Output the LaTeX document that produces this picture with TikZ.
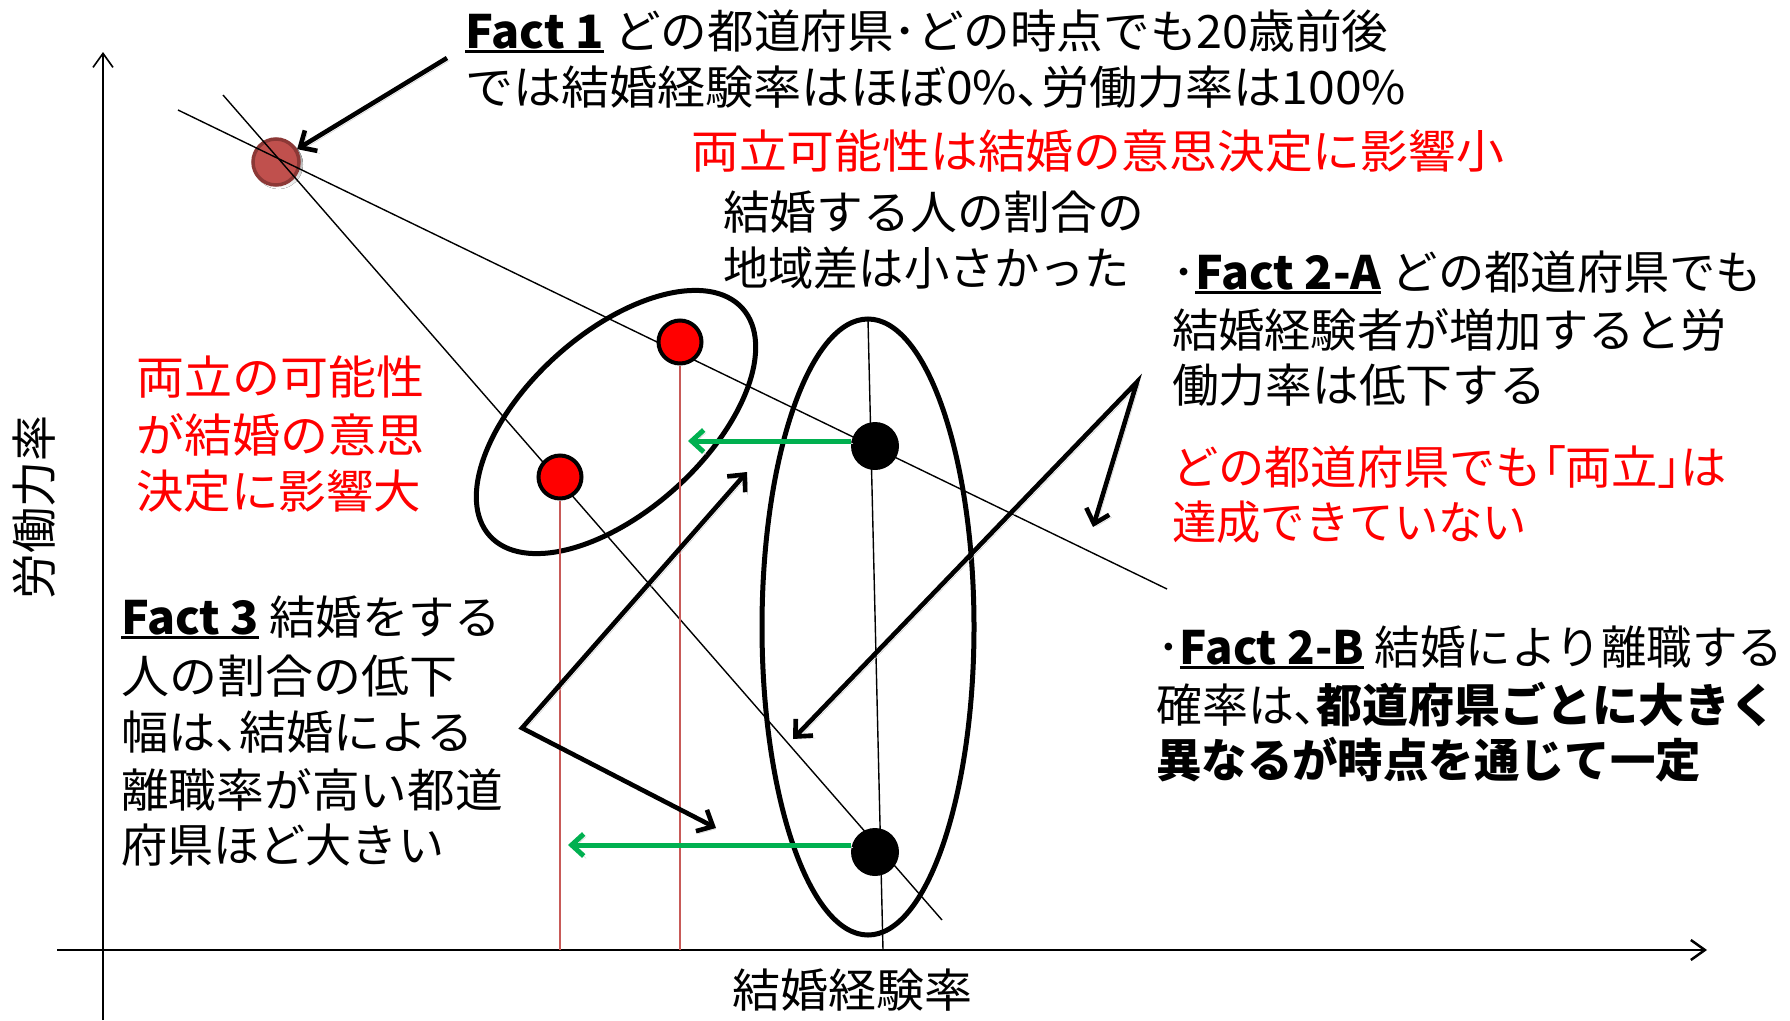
\documentclass[tikz,border=0pt]{standalone}
\usepackage{fontspec}
\usepackage{graphicx}
\setmainfont{Noto Sans CJK JP}
\newfontfamily\pf[RawFeature=+palt]{Noto Sans CJK JP}
\usetikzlibrary{arrows.meta,shapes.geometric}
\definecolor{grn}{RGB}{0,176,80}
\definecolor{dotbrown}{RGB}{192,80,77}
\definecolor{dotbrownd}{RGB}{140,56,54}
\definecolor{thinred}{RGB}{200,90,88}
\definecolor{shade}{RGB}{200,200,200}
\newcommand\fct[1]{\setbox0\hbox{\bfseries #1}\rlap{\rule[-5pt]{\wd0}{2.6pt}}\box0\relax}
\newcommand\pu[1]{{\pf #1}}
\newcommand\fitw[2]{\resizebox{#1pt}{\height}{#2}}
\begin{document}
\begin{tikzpicture}[x=1pt,y=-1pt,
  txt/.style={anchor=base west, inner sep=0pt, font=\fontsize{46}{57}\selectfont},
  redtxt/.style={txt, text=red},
  thinline/.style={line width=1.4pt},
  shadowed/.style={preaction={draw=shade, transform canvas={shift={(2.5pt,-2.5pt)}}}},
  barbs/.style={shadowed, line width=4.6pt, {Straight Barb[length=13pt,width=24pt]}-{Straight Barb[length=13pt,width=24pt]}},
  barrow/.style={shadowed, line width=4.6pt, -{Straight Barb[length=13pt,width=24pt]}},
  garrow/.style={shadowed, line width=5pt, grn, -{Straight Barb[length=12pt,width=22pt]}},
  axisarrow/.style={-{Straight Barb[length=14pt,width=20pt]}},
  bdot/.style={circle, fill=black, inner sep=0pt, minimum size=48pt},
  rdot/.style={circle, fill=red, draw=black, line width=4pt, inner sep=0pt, minimum size=43pt},
  brdot/.style={circle, fill=dotbrown, draw=dotbrownd, line width=3.5pt, inner sep=0pt, minimum size=46pt},
  group/.style={ellipse, draw, line width=5pt, inner sep=0pt}
]
\useasboundingbox (0,0) rectangle (1790,1020);

% axes
\coordinate (xs) at (57,950);
\coordinate (xe) at (1707,950);
\coordinate (ys) at (103,1020);
\coordinate (ye) at (103,52);
\draw[line width=2.5pt, axisarrow] (xs) -- (xe);
\draw[line width=1.6pt, axisarrow] (ys) -- (ye);

% brown dot first so the lines pass over it
\fill[shade] (278.5,164.5) circle (24.5pt);
\node[brdot] (bd) at (276,162) {};

% thin guide lines
\coordinate (l1s) at (178,110);
\coordinate (l1e) at (1167,589);
\coordinate (l2s) at (223,95);
\coordinate (l2e) at (942,920);
\coordinate (vs) at (868,320);
\coordinate (ve) at (883,950);
\draw[thinline] (l1s) -- (l1e);
\draw[thinline] (l2s) -- (l2e);
\draw[thinline] (vs) -- (ve);

% group ellipses
\node[group, minimum width=340pt, minimum height=178pt, rotate=42] (e1) at (616,422) {};
\node[group, minimum width=212pt, minimum height=616pt] (e2) at (868,627) {};

% dots
\node[rdot] (r1) at (680,342) {};
\node[rdot] (r2) at (560,477) {};
\node[bdot] (b1) at (875,446) {};
\node[bdot] (b2) at (875,852) {};

% thin red drop lines
\draw[thinred, line width=1.3pt] (r1.south) -- (r1.south |- xs);
\draw[thinred, line width=1.3pt] (r2.south) -- (r2.south |- xs);

% green arrows
\coordinate (g1) at (688,441);
\coordinate (g2) at (568,845);
\draw[garrow] (b1.west |- g1) -- (g1);
\draw[garrow] (b2.west |- g2) -- (g2);

% black arrows
\coordinate (f1s) at (447,58);
\draw[barrow] (f1s) -- (bd);

\coordinate (a2apex) at (1137,382);
\coordinate (a2t1) at (1093,527);
\coordinate (a2t2) at (793,739);
\draw[barbs] (a2t1) -- (a2apex) -- (a2t2);

\coordinate (a3apex) at (522,728);
\coordinate (a3t1) at (747,472);
\coordinate (a3t2) at (716,828);
\draw[barbs] (a3t1) -- (a3apex) -- (a3t2);

% texts
\node[txt] (f1a) at (465,48) {\fitw{923}{\fct{Fact 1} どの都道府県･どの時点でも20歳前後}};
\node[txt] (f1b) at (465,104) {\fitw{941}{では結婚経験率はほぼ0\%\pu{、}労働力率は100\%}};
\node[redtxt] (s1) at (691,168) {\fitw{813}{両立可能性は結婚の意思決定に影響小}};
\node[txt] (s2a) at (723,229) {\fitw{421}{結婚する人の割合の}};
\node[txt] (s2b) at (723,285) {\fitw{407}{地域差は小さかった}};

\node[txt] (f2a1) at (1172,289) {\fitw{590}{･\fct{Fact 2-A} どの都道府県でも}};
\node[txt] (f2a2) at (1172,347) {\fitw{555}{結婚経験者が増加すると労}};
\node[txt] (f2a3) at (1172,402) {\fitw{374}{働力率は低下する}};
\node[redtxt] (r2a) at (1172,484) {\fitw{555}{どの都道府県でも\pu{「}両立\pu{」}は}};
\node[redtxt] (r2b) at (1172,539) {\fitw{355}{達成できていない}};

\node[txt] (f2b1) at (1157,664) {\fitw{626}{･\fct{Fact 2-B} 結婚により離職する}};
\node[txt] (f2b2) at (1156,722) {\fitw{620}{確率は\pu{、}\textbf{都道府県ごとに大きく}}};
\node[txt] (f2b3) at (1156,777) {\fitw{545}{\textbf{異なるが時点を通じて一定}}};

\node[redtxt] (rl1) at (136,394) {\fitw{288}{両立の可能性}};
\node[redtxt] (rl2) at (136,452) {\fitw{288}{が結婚の意思}};
\node[redtxt] (rl3) at (136,508) {\fitw{285}{決定に影響大}};

\node[txt] (f3a) at (121,634) {\fitw{380}{\fct{Fact 3} 結婚をする}};
\node[txt] (f3b) at (121,693) {\fitw{336}{人の割合の低下}};
\node[txt] (f3c) at (121,749) {\fitw{352}{幅は\pu{、}結婚による}};
\node[txt] (f3d) at (121,807) {\fitw{382}{離職率が高い都道}};
\node[txt] (f3e) at (121,862) {\fitw{323}{府県ほど大きい}};

\node[txt] (xl) at (732,1007) {\fitw{240}{結婚経験率}};
\node[inner sep=0pt, font=\fontsize{46}{57}\selectfont, rotate=90] (yl) at (34,507) {労働力率};
\end{tikzpicture}
\end{document}
